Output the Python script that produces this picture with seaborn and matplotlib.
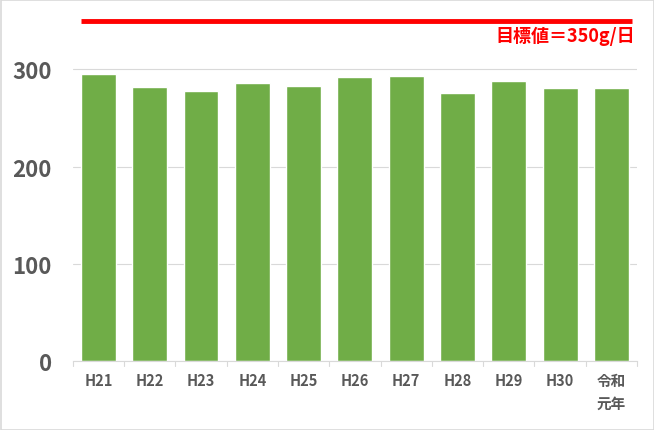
import matplotlib
matplotlib.use("Agg")
import matplotlib.pyplot as plt
import seaborn as sns
import pandas as pd
from matplotlib.patches import Rectangle

categories = ["H21", "H22", "H23", "H24", "H25", "H26", "H27", "H28", "H29", "H30", "令和\n元年"]
values = [295, 282, 278, 286, 283, 292, 293, 276, 288, 281, 280.5]
target = 350
target_label = "目標値＝350g/日"
yticks = [0, 100, 200, 300]

sns.set_theme(style="white")
plt.rcParams['font.family'] = ['Noto Sans CJK JP', 'DejaVu Sans']

df = pd.DataFrame({"cat": categories, "val": values})

W, H = 654, 431
fig = plt.figure(figsize=(W / 100, H / 100), dpi=100)
left, right, bottom, top = 72.8, 637, 362, 10
ax = fig.add_axes([left / W, 1 - bottom / H, (right - left) / W, (bottom - top) / H])

sns.barplot(data=df, x="cat", y="val", color="#70AD47", saturation=1, width=0.68, ax=ax)

ymax = (bottom - top) / 0.972
ax.set_ylim(0, ymax)
ax.set_xlim(-0.5, len(categories) - 0.5)
ax.set_yticks(yticks)
ax.set_yticklabels([str(t) for t in yticks], fontsize=16, fontweight="bold", color="#595959")
ax.tick_params(axis="y", length=0, pad=15)
ax.yaxis.grid(True, color="#D9D9D9", linewidth=0.8)
ax.set_axisbelow(True)

ax.set_xticks(range(len(categories)))
ax.set_xticklabels(categories, fontsize=10.5, color="#595959", fontweight="bold", va="top", linespacing=1.55)
ax.tick_params(axis="x", length=0, pad=8)
for i in range(len(categories) + 1):
    ax.plot([i - 0.5, i - 0.5], [0, -5], color="#D9D9D9", linewidth=0.8, clip_on=False)

for s in ["top", "right", "left"]:
    ax.spines[s].set_visible(False)
ax.spines["bottom"].set_color("#D9D9D9")
ax.spines["bottom"].set_linewidth(0.8)
ax.set_xlabel("")
ax.set_ylabel("")

ax.plot([-0.34, 10.4], [target, target], color="#FF0000", linewidth=3.5, solid_capstyle="butt")
ax.text(10.46, target - 5, target_label, color="#FF0000", fontsize=13, fontweight="bold",
        ha="right", va="top")

fig.patches.append(Rectangle((0.5 / W, 0.5 / H), 1 - 1 / W, 1 - 1 / H, transform=fig.transFigure,
                             fill=False, edgecolor="#D9D9D9", linewidth=1.2))

fig.savefig("out.png", dpi=100)
